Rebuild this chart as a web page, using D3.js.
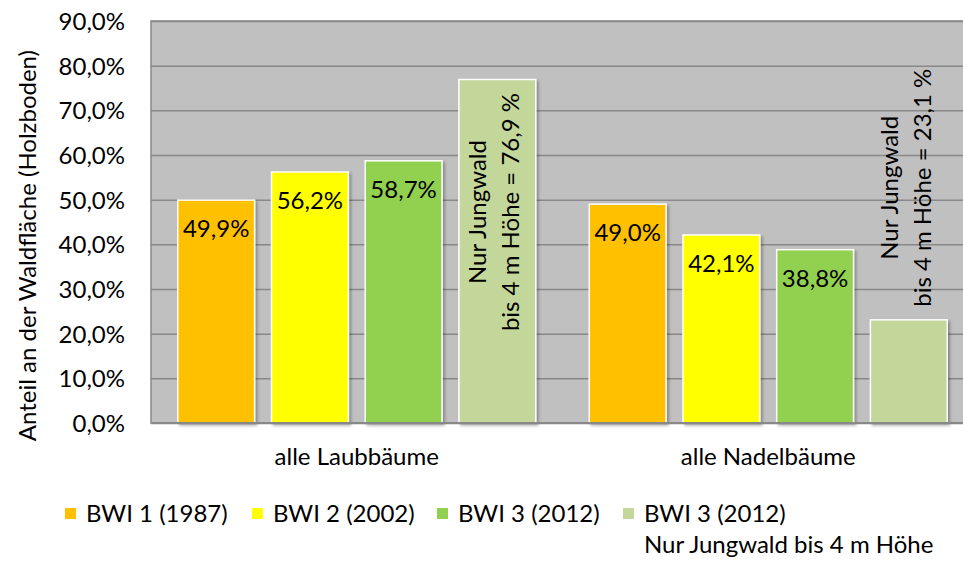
<!DOCTYPE html>
<html>
<head>
<meta charset="utf-8">
<script src="https://cdn.jsdelivr.net/npm/d3@7"></script>
<style>
  body { margin: 0; overflow: hidden; background: #fff; }
  text { font-family: Lato, "Open Sans", sans-serif; fill: #000; }
</style>
</head>
<body>
<div id="chart"></div>
<script>
// data
var categories = ["alle Laubbäume", "alle Nadelbäume"];
var series = ["BWI 1 (1987)", "BWI 2 (2002)", "BWI 3 (2012)", "BWI 3 (2012) Jungwald"];
var bwi1 = [49.9, 49.0];
var bwi2 = [56.2, 42.1];
var bwi3 = [58.7, 38.8];
var bwi3Jung = [76.9, 23.1];
var yTicks = [0, 10, 20, 30, 40, 50, 60, 70, 80, 90];
var legendLabels = ["BWI 1 (1987)", "BWI 2 (2002)", "BWI 3 (2012)", "BWI 3 (2012)"];
var legendSecondLine = "Nur Jungwald bis 4 m Höhe";
var yTitle = "Anteil an der Waldfläche (Holzboden)";

var colors = ["#FFC000", "#FFFF00", "#92D050", "#C4D79B"];
var seriesValues = [bwi1, bwi2, bwi3, bwi3Jung];

var width = 963, height = 561;
var plot = { left: 151, top: 21, right: 974, bottom: 423 };
var fontSize = 24;

var fmt = function(v) { return d3.format(".1f")(v).replace(".", ","); };

var svg = d3.select("#chart").append("svg")
  .attr("width", width)
  .attr("height", height)
  .style("display", "block");

var defs = svg.append("defs");
var shadow = defs.append("filter").attr("id", "shadow")
  .attr("x", "-20%").attr("y", "-20%").attr("width", "140%").attr("height", "140%");
shadow.append("feDropShadow")
  .attr("dx", 2).attr("dy", 2)
  .attr("stdDeviation", 1.5)
  .attr("flood-color", "#000")
  .attr("flood-opacity", 0.3);

var y = d3.scaleLinear().domain([0, 90]).range([plot.bottom, plot.top]);

var x0 = d3.scaleBand()
  .domain(categories)
  .range([plot.left, plot.right])
  .paddingInner(0.13)
  .paddingOuter(0.065);

var x1 = d3.scaleBand()
  .domain(d3.range(series.length))
  .range([0, x0.bandwidth()])
  .paddingInner(0.18)
  .paddingOuter(0);

// plot background
svg.append("rect")
  .attr("x", plot.left)
  .attr("y", plot.top)
  .attr("width", plot.right - plot.left)
  .attr("height", plot.bottom - plot.top)
  .attr("fill", "#C0C0C0")
  .attr("stroke", "#888")
  .attr("stroke-width", 1.5);

// gridlines
svg.append("g")
  .attr("transform", "translate(" + plot.left + ",0)")
  .call(d3.axisLeft(y).tickValues(yTicks).tickSize(-(plot.right - plot.left)).tickFormat(""))
  .call(function(g) { g.select(".domain").remove(); })
  .selectAll("line")
  .attr("stroke", "#888")
  .attr("stroke-width", 1.5);

// tick labels
var yAxis = svg.append("g")
  .attr("transform", "translate(" + plot.left + ",0)")
  .call(d3.axisLeft(y).tickValues(yTicks).tickSize(0).tickPadding(26)
    .tickFormat(function(d) { return fmt(d) + "%"; }));
yAxis.select(".domain").remove();
yAxis.selectAll("text")
  .style("font-family", "Lato, 'Open Sans', sans-serif")
  .style("font-size", fontSize + "px")
  .attr("fill", "#000")
  .attr("dy", "0.36em");

// y axis title
svg.append("text")
  .attr("transform", "translate(36,50) rotate(-90)")
  .attr("text-anchor", "end")
  .style("font-size", fontSize + "px")
  .text(yTitle);

// bars
var groups = svg.selectAll("g.cat")
  .data(categories)
  .enter().append("g")
  .attr("class", "cat")
  .attr("transform", function(d) { return "translate(" + x0(d) + ",0)"; });

groups.each(function(cat, ci) {
  var g = d3.select(this);
  seriesValues.forEach(function(vals, si) {
    var v = vals[ci];
    var bx = x1(si), bw = x1.bandwidth();
    var top = y(v);
    g.append("rect")
      .attr("x", bx)
      .attr("y", top)
      .attr("width", bw)
      .attr("height", y(0) - top)
      .attr("fill", colors[si])
      .attr("stroke", "#fff")
      .attr("stroke-width", 1.5)
      .attr("filter", "url(#shadow)");

    var cx = bx + bw / 2;
    if (si < 3) {
      g.append("text")
        .attr("x", cx)
        .attr("y", top + 37)
        .attr("text-anchor", "middle")
        .style("font-size", fontSize + "px")
        .text(fmt(v) + "%");
    } else {
      var lab = g.append("g");
      lab.append("text")
        .attr("text-anchor", "middle")
        .attr("y", -11)
        .style("font-size", fontSize + "px")
        .text("Nur Jungwald");
      var l2 = lab.append("text")
        .attr("text-anchor", "middle")
        .attr("y", 22)
        .style("font-size", fontSize + "px")
        .text("bis 4 m Höhe = " + fmt(v) + " %");
      var len = l2.node().getComputedTextLength();
      var cy;
      if (len + 28 < y(0) - top) {
        cy = top + 13.5 + len / 2;   // inside end
      } else {
        cy = top - 13 - len / 2;     // above the bar
      }
      lab.attr("transform", "translate(" + cx + "," + cy + ") rotate(-90)");
    }
  });
});

// bottom axis line
svg.append("line")
  .attr("x1", plot.left).attr("x2", plot.right)
  .attr("y1", plot.bottom).attr("y2", plot.bottom)
  .attr("stroke", "#888")
  .attr("stroke-width", 2);

// category labels
svg.selectAll("text.cat")
  .data(categories)
  .enter().append("text")
  .attr("class", "cat")
  .attr("x", function(d) { return x0(d) + x0.bandwidth() / 2; })
  .attr("y", 465)
  .attr("text-anchor", "middle")
  .style("font-size", fontSize + "px")
  .text(function(d) { return d; });

// legend
var legendX = [65, 252, 437, 623];
var legend = svg.append("g");
legendLabels.forEach(function(t, i) {
  legend.append("rect")
    .attr("x", legendX[i])
    .attr("y", 508)
    .attr("width", 11)
    .attr("height", 11)
    .attr("fill", colors[i]);
  legend.append("text")
    .attr("x", legendX[i] + 21)
    .attr("y", 522)
    .style("font-size", fontSize + "px")
    .text(t);
});
legend.append("text")
  .attr("x", legendX[3] + 21)
  .attr("y", 553)
  .style("font-size", fontSize + "px")
  .text(legendSecondLine);
</script>
</body>
</html>
